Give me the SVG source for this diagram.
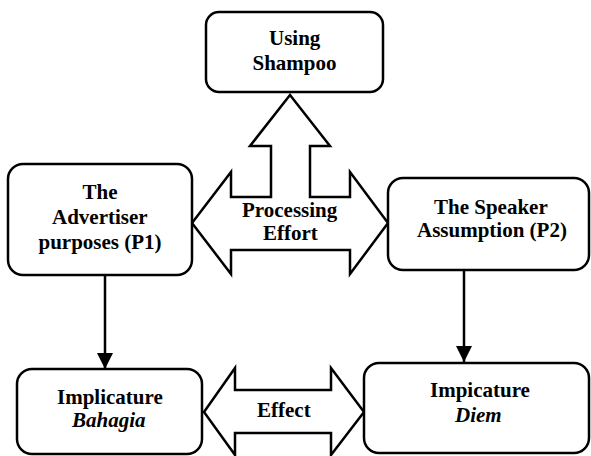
<svg xmlns="http://www.w3.org/2000/svg" width="591" height="456" viewBox="0 0 591 456">
  <defs>
    <marker id="head" markerUnits="userSpaceOnUse" markerWidth="16" markerHeight="16" viewBox="0 0 16 16" refX="16" refY="8" orient="auto">
      <path d="M0,0 L16,8 L0,16 Z" fill="#000"/>
    </marker>
  </defs>
  <rect width="591" height="456" fill="#fff"/>

  <!-- connectors: block arrows and plain arrows -->
  <g id="connectors">
    <g fill="#fff" stroke="#000" stroke-width="2.5">
      <polygon id="processing-arrow" points="192,223 231,172 231,197 271,197 271,146 250,146 290,95 330,146 310,146 310,197 350,197 350,172 388,223 350,274 350,250 231,250 231,274"/>
      <polygon id="effect-arrow" points="204,412 235,368 235,390 331,390 331,368 364,412 331,455 331,433 235,433 235,455"/>
    </g>
    <g stroke="#000" stroke-width="2.5" fill="none">
      <line x1="105" y1="275" x2="105" y2="369" marker-end="url(#head)"/>
      <line x1="464" y1="270" x2="464" y2="362" marker-end="url(#head)"/>
    </g>
    <text x="242" y="217" font-family="Liberation Serif" font-size="21" font-weight="bold">Processing</text>
    <text x="263" y="240" font-family="Liberation Serif" font-size="21" font-weight="bold">Effort</text>
    <text x="257" y="417" font-family="Liberation Serif" font-size="21" font-weight="bold">Effect</text>
  </g>

  <g id="shampoo">
    <rect x="206" y="12" width="177" height="80" rx="13" fill="#fff" stroke="#000" stroke-width="2.5"/>
    <text x="269" y="45" font-family="Liberation Serif" font-size="21" font-weight="bold">Using</text>
    <text x="252.5" y="70" font-family="Liberation Serif" font-size="21" font-weight="bold">Shampoo</text>
  </g>

  <g id="advertiser">
    <rect x="8" y="164" width="184" height="111" rx="15" fill="#fff" stroke="#000" stroke-width="2.5"/>
    <text x="82.5" y="199" font-family="Liberation Serif" font-size="21" font-weight="bold">The</text>
    <text x="52" y="224" font-family="Liberation Serif" font-size="21" font-weight="bold">Advertiser</text>
    <text x="38.5" y="249" font-family="Liberation Serif" font-size="21" font-weight="bold">purposes (P1)</text>
  </g>

  <g id="speaker">
    <rect x="388" y="178" width="201" height="92" rx="15" fill="#fff" stroke="#000" stroke-width="2.5"/>
    <text x="434" y="214" font-family="Liberation Serif" font-size="21" font-weight="bold">The Speaker</text>
    <text x="417" y="237" font-family="Liberation Serif" font-size="21" font-weight="bold">Assumption (P2)</text>
  </g>

  <g id="bahagia">
    <rect x="17" y="369" width="185" height="85" rx="15" fill="#fff" stroke="#000" stroke-width="2.5"/>
    <text x="57" y="404" font-family="Liberation Serif" font-size="21" font-weight="bold">Implicature</text>
    <text x="72" y="427" font-family="Liberation Serif" font-size="21" font-weight="bold" font-style="italic">Bahagia</text>
  </g>

  <g id="diem">
    <rect x="364" y="363" width="225" height="90" rx="15" fill="#fff" stroke="#000" stroke-width="2.5"/>
    <text x="430" y="397" font-family="Liberation Serif" font-size="21" font-weight="bold">Impicature</text>
    <text x="455" y="422" font-family="Liberation Serif" font-size="21" font-weight="bold" font-style="italic">Diem</text>
  </g>
</svg>
